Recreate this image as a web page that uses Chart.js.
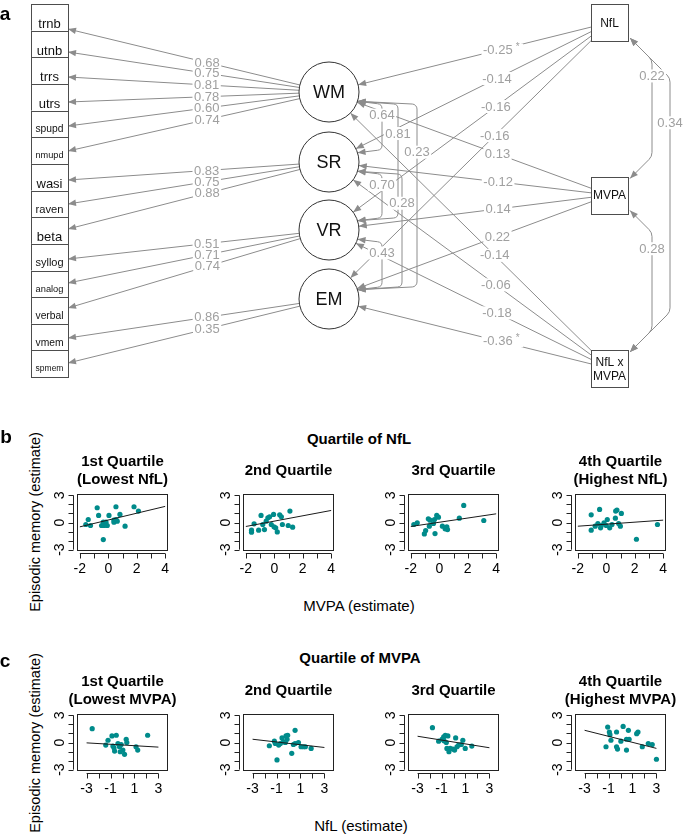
<!DOCTYPE html>
<html>
<head>
<meta charset="utf-8">
<title>NfL, MVPA and cognition</title>
<script src="https://cdn.jsdelivr.net/npm/chart.js@4.4.1/dist/chart.umd.min.js"></script>
<style>
  body { margin: 0; background: #fff; }
  #page { position: relative; width: 685px; height: 834px; overflow: hidden; font-family: "Liberation Sans", Arial, sans-serif; color: #000; }
  #page canvas { position: absolute; }
  .txt { position: absolute; white-space: nowrap; line-height: 1; transform: translate(-50%, -50%); }
  .panel { font-weight: bold; font-size: 19px; }
  .head { font-weight: bold; font-size: 15px; }
  .axis { font-size: 15px; }
  .vert { transform: translate(-50%, -50%) rotate(-90deg); font-size: 14.5px; }
</style>
</head>
<body>
<div id="page">
  <canvas id="sem" width="685" height="392" style="left:0;top:0"></canvas>
  <div class="txt panel" style="left:5px;top:13px">a</div>
  <div class="txt panel" style="left:6px;top:436px">b</div>
  <div class="txt head" style="left:359px;top:438px">Quartile of NfL</div>
  <div class="txt vert" style="left:35px;top:522px">Episodic memory (estimate)</div>
  <div class="txt axis" style="left:359px;top:605px">MVPA (estimate)</div>
  <div class="txt panel" style="left:5px;top:660px">c</div>
  <div class="txt head" style="left:360px;top:657px">Quartile of MVPA</div>
  <div class="txt vert" style="left:35px;top:743px">Episodic memory (estimate)</div>
  <div class="txt axis" style="left:361px;top:825px">NfL (estimate)</div>
</div>
<script>
// ---- panel a: structural equation model ----
var indicators = ['trnb', 'utnb', 'trrs', 'utrs', 'spupd', 'nmupd', 'wasi', 'raven', 'beta', 'syllog', 'analog', 'verbal', 'vmem', 'spmem'];
var factors = ['WM', 'SR', 'VR', 'EM'];
var factorOf = [0, 0, 0, 0, 0, 0, 1, 1, 1, 2, 2, 2, 3, 3];
var loadings = [0.68, 0.75, 0.81, 0.78, 0.60, 0.74, 0.83, 0.75, 0.88, 0.51, 0.71, 0.74, 0.86, 0.35];
var predictors = ['NfL', 'MVPA', 'NfL x MVPA'];
var betaNfL = [-0.25, -0.14, -0.16, -0.16];
var betaMVPA = [0.13, -0.12, 0.14, 0.22];
var betaNfLxMVPA = [-0.14, -0.06, -0.18, -0.36];
var sigNfL = [true, false, false, false];
var sigMVPA = [false, false, false, false];
var sigNfLxMVPA = [false, false, false, true];
var factorCov = [[0, 1, 0.64], [0, 2, 0.81], [0, 3, 0.23], [1, 2, 0.70], [1, 3, 0.28], [2, 3, 0.43]];
var predictorCov = [[0, 1, 0.22], [0, 2, 0.34], [1, 2, 0.28]];

// ---- panels b and c: episodic memory by quartile ----
var nflTitles = [['1st Quartile', '(Lowest NfL)'], ['2nd Quartile'], ['3rd Quartile'], ['4th Quartile', '(Highest NfL)']];
var mvpaTitles = [['1st Quartile', '(Lowest MVPA)'], ['2nd Quartile'], ['3rd Quartile'], ['4th Quartile', '(Highest MVPA)']];
var emTicks = [-3, -2, -1, 0, 1, 2, 3];
var emTickLabels = [-3, 0, 3];
var mvpaTicks = [-2, -1, 0, 1, 2, 3, 4];
var mvpaTickLabels = [-2, 0, 2, 4];
var nflTicks = [-3, -2, -1, 0, 1, 2, 3];
var nflTickLabels = [-3, -1, 1, 3];

var nflQ1Mvpa = [-1.58, -1.41, -1.25, -0.78, -0.68, -0.47, -0.35, -0.28, -0.16, -0.07, -0.35, 0.05, 0.40, 0.54, 0.54, 0.40, 0.82, 1.18, 1.81, 2.12, 0.63];
var nflQ1Em   = [-0.22, 0.33, -0.33, 1.63, 0.78, -0.33, 0.04, -0.33, 0.04, -0.33, -1.89, 0.78, 0.26, 0.33, 1.74, 0.04, 0.89, -0.41, 1.74, 1.26, 0.15];
var nflQ2Mvpa = [-1.60, -1.60, -1.42, -1.10, -0.93, -0.81, -0.69, -0.57, -0.45, -0.33, -0.21, -0.05, -0.02, 0.10, 0.21, 0.38, 0.50, 0.57, 0.98, 1.10, 1.29];
var nflQ2Em   = [-0.85, -1.07, -0.15, -0.85, 0.78, -0.22, -0.78, 0.15, 0.52, 0.63, -0.22, 0.89, -0.48, -0.59, -1.04, 0.85, 0.63, -0.22, -0.33, 1.26, -0.52];
var nflQ3Mvpa = [-1.79, -1.55, -1.05, -0.96, -0.77, -0.70, -0.65, -0.41, -0.34, -0.30, -0.18, -0.06, 0.22, 0.41, 0.53, 0.58, 1.41, 1.72, 3.13];
var nflQ3Em   = [-0.22, -0.04, -1.26, -0.89, 0.41, -0.41, 0.26, -0.11, 0.33, -1.22, 0.78, 0.59, -0.41, -0.70, -0.48, -0.78, 0.48, 1.89, 0.22];
var nflQ4Mvpa = [-1.06, -1.06, -0.78, -0.59, -0.47, -0.40, -0.35, -0.16, 0.00, 0.07, 0.24, 0.40, 0.64, 0.66, 0.75, 0.87, 0.99, 1.06, 2.12, 3.60];
var nflQ4Em   = [0.85, -0.85, -0.41, -0.11, 1.44, -0.59, -0.33, -0.04, -0.33, 0.33, -0.59, -0.22, 0.48, 1.26, 1.37, -0.11, -0.41, 1.00, -1.85, -0.22];
var nflFitX = [-2, 4];
var nflFitY = [[-0.48, 1.78], [-0.44, 1.33], [-0.44, 0.96], [-0.41, 0.26]];

var mvpaQ1Nfl = [-2.53, -1.40, -1.21, -0.88, -0.71, -0.66, -0.52, -0.38, -0.25, -0.19, -0.11, 0.03, 0.17, 0.31, 0.36, 1.13, 1.27, 2.10, -0.80];
var mvpaQ1Em  = [1.53, -0.29, 0.25, 0.73, -0.58, -0.95, 0.80, -0.11, -0.47, -1.02, -0.22, -0.84, -1.31, 0.36, 0.00, -0.47, -0.84, 0.80, -0.40];
var mvpaQ2Nfl = [-1.60, -1.18, -1.10, -0.96, -0.82, -0.68, -0.54, -0.43, -0.26, -0.21, -0.12, 0.55, 0.27, 0.41, 0.55, 0.83, 1.05, 1.25, 1.41, 1.89, -0.07];
var mvpaQ2Em  = [-0.36, 0.15, -0.11, -1.93, -0.29, -0.11, 0.51, 0.07, 0.00, 0.73, 0.36, 1.35, -1.20, -0.22, -0.11, 0.00, -0.47, -0.47, -0.47, -0.65, 0.80];
var mvpaQ3Nfl = [-1.76, -1.24, -0.96, -0.82, -0.69, -0.60, -0.55, -0.47, -0.38, -0.27, -0.04, 0.09, 0.18, 0.29, 0.43, 0.65, 0.78, 0.98, 1.53, -0.79];
var mvpaQ3Em  = [1.64, 0.15, 0.36, 0.62, 0.80, 0.00, -0.65, 0.73, -1.02, -0.65, -0.73, -0.84, 0.51, -0.47, -0.29, -0.22, 0.25, -0.65, -0.40, 0.18];
var mvpaQ4Nfl = [-1.21, -1.07, -0.93, -0.88, -0.80, -0.33, -0.33, -0.25, 0.03, 0.22, 0.50, 0.50, 0.66, 0.72, 1.35, 1.46, 1.82, 2.32, 2.65, 3.00];
var mvpaQ4Em  = [-0.47, 1.71, 1.16, 0.87, 0.25, 1.16, -0.47, -0.73, 0.15, 1.78, 0.36, -0.84, 1.35, 0.36, 0.98, 1.16, -0.47, -0.11, -0.22, -1.85];
var mvpaFitX = [-3, 3];
var mvpaFitY = [[-0.04, -0.51], [0.36, -0.55], [0.69, -0.58], [1.35, -0.65]];

// ---- layout and style ----
var FONT = '"Liberation Sans", Arial, sans-serif';
var EDGE = '#8c8c8c', LABEL = '#a0a0a0', TEAL = '#008b8b';
var boxL = 31, boxR = 68, boxTop = 4, boxH = 26.65;
var tipY = [29, 52, 77, 102, 126, 151, 180, 204, 229, 259, 283, 308, 338, 363];
var facX = 329, facY = [92, 162, 230, 299], facR = 30;
var predL = 591, predR = 628, predCY = [22.5, 195, 368.5], predHalf = 18.5;
var facCovPivot = [382, 398, 417, 382, 402, 382];
var predCovPivot = [652, 670, 652];

function unit(dx, dy) { var n = Math.sqrt(dx * dx + dy * dy); return { x: dx / n, y: dy / n }; }

function arrowHead(ctx, tip, from) {
  var a = Math.atan2(tip.y - from.y, tip.x - from.x), L = 8, W = 3.2;
  var bx = tip.x - L * Math.cos(a), by = tip.y - L * Math.sin(a);
  ctx.beginPath();
  ctx.moveTo(tip.x, tip.y);
  ctx.lineTo(bx + W * Math.sin(a), by - W * Math.cos(a));
  ctx.lineTo(bx - W * Math.sin(a), by + W * Math.cos(a));
  ctx.closePath();
  ctx.fill();
}

function straightEdge(ctx, s, e) {
  ctx.beginPath(); ctx.moveTo(s.x, s.y); ctx.lineTo(e.x, e.y); ctx.stroke();
  arrowHead(ctx, e, s);
}

function bracketEdge(ctx, A, B, P, dy, r) {
  var c1 = { x: P, y: A.y + dy }, c2 = { x: P, y: B.y - dy };
  ctx.beginPath();
  ctx.moveTo(A.x, A.y);
  ctx.arcTo(c1.x, c1.y, c2.x, c2.y, r);
  ctx.arcTo(c2.x, c2.y, B.x, B.y, r);
  ctx.lineTo(B.x, B.y);
  ctx.stroke();
  arrowHead(ctx, A, c1);
  arrowHead(ctx, B, c2);
}

function edgeLabel(ctx, lab) {
  ctx.font = '13px ' + FONT;
  var w = ctx.measureText(lab.t).width, extra = lab.star ? 9 : 0;
  ctx.fillStyle = '#fff';
  ctx.fillRect(lab.x - w / 2 - 1.5, lab.y - 6.5, w + 3 + extra, 13);
  ctx.fillStyle = LABEL;
  ctx.textAlign = 'center';
  ctx.textBaseline = 'middle';
  ctx.fillText(lab.t, lab.x, lab.y + 0.5);
  if (lab.star) {
    ctx.font = '10px ' + FONT;
    ctx.textAlign = 'left';
    ctx.fillText('*', lab.x + w / 2 + 3, lab.y - 3);
  }
}

var semDiagram = {
  id: 'semDiagram',
  beforeDatasetsDraw: function (chart) {
    var ctx = chart.ctx;
    var sx = function (v) { return chart.scales.x.getPixelForValue(v); };
    var sy = function (v) { return chart.scales.y.getPixelForValue(v); };
    var labels = [];
    ctx.save();
    ctx.strokeStyle = EDGE; ctx.fillStyle = EDGE; ctx.lineWidth = 1;

    // factor loadings
    indicators.forEach(function (name, i) {
      var c = { x: sx(facX), y: sy(facY[factorOf[i]]) };
      var e = { x: sx(boxR), y: sy(tipY[i]) };
      var d = unit(e.x - c.x, e.y - c.y);
      var s = { x: c.x + d.x * facR, y: c.y + d.y * facR };
      straightEdge(ctx, s, e);
      labels.push({ t: loadings[i].toFixed(2), x: s.x + 0.4 * (e.x - s.x), y: s.y + 0.4 * (e.y - s.y) });
    });

    // regressions of the factors on the predictors
    var betas = [betaNfL, betaMVPA, betaNfLxMVPA], sigs = [sigNfL, sigMVPA, sigNfLxMVPA];
    predictors.forEach(function (p, pi) {
      var pc = { x: sx((predL + predR) / 2), y: sy(predCY[pi]) };
      factors.forEach(function (f, fi) {
        var fc = { x: sx(facX), y: sy(facY[fi]) };
        var dx = fc.x - pc.x, dy = fc.y - pc.y;
        var t = Math.min(predHalf / Math.abs(dx), dy === 0 ? Infinity : predHalf / Math.abs(dy));
        var s = { x: pc.x + t * dx, y: pc.y + t * dy };
        var u = unit(dx, dy);
        var e = { x: fc.x - u.x * facR, y: fc.y - u.y * facR };
        straightEdge(ctx, s, e);
        labels.push({ t: betas[pi][fi].toFixed(2), x: s.x + 0.4 * (e.x - s.x), y: s.y + 0.4 * (e.y - s.y), star: sigs[pi][fi] });
      });
    });

    // factor covariances
    var ang = 18 * Math.PI / 180;
    factorCov.forEach(function (cv, k) {
      var A = { x: sx(facX) + facR * Math.cos(ang), y: sy(facY[cv[0]]) + facR * Math.sin(ang) };
      var B = { x: sx(facX) + facR * Math.cos(ang), y: sy(facY[cv[1]]) - facR * Math.sin(ang) };
      var P = sx(facCovPivot[k]);
      bracketEdge(ctx, A, B, P, 3, 5);
      labels.push({ t: cv[2].toFixed(2), x: P, y: A.y + 0.27 * (B.y - A.y) });
    });

    // predictor covariances
    predictorCov.forEach(function (cv, k) {
      var A = { x: sx(predR) + 2, y: sy(predCY[cv[0]] + predHalf) - 3 };
      var B = { x: sx(predR) + 2, y: sy(predCY[cv[1]] - predHalf) + 2 };
      var P = sx(predCovPivot[k]);
      bracketEdge(ctx, A, B, P, P - A.x, 10);
      labels.push({ t: cv[2].toFixed(2), x: P, y: A.y + 0.27 * (B.y - A.y) });
    });

    labels.forEach(function (lab) { edgeLabel(ctx, lab); });
    ctx.restore();
  },
  afterDatasetsDraw: function (chart) {
    var ctx = chart.ctx;
    var sx = function (v) { return chart.scales.x.getPixelForValue(v); };
    var sy = function (v) { return chart.scales.y.getPixelForValue(v); };
    ctx.save();
    ctx.lineWidth = 1;
    ctx.textAlign = 'center';
    ctx.textBaseline = 'middle';

    // observed indicators
    indicators.forEach(function (name, i) {
      var top = sy(boxTop + i * boxH), bottom = sy(boxTop + (i + 1) * boxH);
      var l = sx(boxL), r = sx(boxR);
      ctx.fillStyle = '#fff';
      ctx.fillRect(l, top, r - l, bottom - top);
      ctx.strokeStyle = '#4d4d4d';
      ctx.strokeRect(Math.round(l) + 0.5, Math.round(top) + 0.5, Math.round(r - l), Math.round(bottom) - Math.round(top));
      ctx.font = '13px ' + FONT;
      var fs = Math.min(13, 13 * 28 / ctx.measureText(name).width);
      ctx.font = fs.toFixed(1) + 'px ' + FONT;
      ctx.fillStyle = '#111';
      ctx.fillText(name, (l + r) / 2, (top + bottom) / 2 + 0.55 * fs);
    });

    // predictors
    predictors.forEach(function (name, i) {
      var l = sx(predL), r = sx(predR), top = sy(predCY[i] - predHalf), bottom = sy(predCY[i] + predHalf);
      ctx.fillStyle = '#fff';
      ctx.fillRect(l, top, r - l, bottom - top);
      ctx.strokeStyle = '#4d4d4d';
      ctx.strokeRect(Math.round(l) + 0.5, Math.round(top) + 0.5, Math.round(r - l), Math.round(bottom - top));
      ctx.fillStyle = '#111';
      ctx.font = '12px ' + FONT;
      var parts = name === 'NfL x MVPA' ? ['NfL x', 'MVPA'] : [name];
      parts.forEach(function (txt, j) {
        ctx.fillText(txt, (l + r) / 2, (top + bottom) / 2 + 1 + (j - (parts.length - 1) / 2) * 14);
      });
    });

    // factor names
    ctx.font = '18px ' + FONT;
    ctx.fillStyle = '#111';
    factors.forEach(function (name, i) {
      ctx.fillText(name, sx(facX), sy(facY[i]) + 1);
    });
    ctx.restore();
  }
};

new Chart(document.getElementById('sem'), {
  type: 'scatter',
  data: {
    datasets: [{
      label: 'factors',
      data: factors.map(function (f, i) { return { x: facX, y: facY[i] }; }),
      pointRadius: facR,
      pointHoverRadius: facR,
      pointStyle: 'circle',
      backgroundColor: '#fff',
      borderColor: '#333',
      borderWidth: 1
    }]
  },
  options: {
    responsive: false,
    animation: false,
    events: [],
    layout: { padding: 0, autoPadding: false },
    plugins: { legend: { display: false }, tooltip: { enabled: false } },
    scales: {
      x: { type: 'linear', min: 0, max: 685, display: false },
      y: { type: 'linear', min: 0, max: 392, reverse: true, display: false }
    }
  },
  plugins: [semDiagram]
});

// ---- quartile scatter plots ----
var plotLeft = [77, 243, 408, 575], rowTop = [494, 714];
var plotW = 91, plotH = 57, marginL = 38, marginR = 38, marginTop = 45, marginBottom = 30;

var rAxes = {
  id: 'rAxes',
  afterDraw: function (chart) {
    var a = chart.chartArea, ctx = chart.ctx, xs = chart.scales.x, ys = chart.scales.y;
    ctx.save();
    ctx.strokeStyle = '#222';
    ctx.lineWidth = 1;
    ctx.strokeRect(Math.round(a.left) + 0.5, Math.round(a.top) + 0.5, Math.round(a.right - a.left) - 1, Math.round(a.bottom - a.top) - 1);
    var xv = xs.ticks.map(function (t) { return t.value; });
    var yv = ys.ticks.map(function (t) { return t.value; });
    var yA = Math.round(a.bottom) + 2.5;
    ctx.beginPath();
    ctx.moveTo(xs.getPixelForValue(xv[0]), yA);
    ctx.lineTo(xs.getPixelForValue(xv[xv.length - 1]), yA);
    xv.forEach(function (v) {
      var p = Math.round(xs.getPixelForValue(v)) + 0.5;
      ctx.moveTo(p, yA); ctx.lineTo(p, yA + 5);
    });
    var xA = Math.round(a.left) - 3.5;
    ctx.moveTo(xA, ys.getPixelForValue(yv[0]));
    ctx.lineTo(xA, ys.getPixelForValue(yv[yv.length - 1]));
    yv.forEach(function (v) {
      var p = Math.round(ys.getPixelForValue(v)) + 0.5;
      ctx.moveTo(xA, p); ctx.lineTo(xA - 5, p);
    });
    ctx.stroke();
    ctx.restore();
  }
};

function quartilePlot(id, col, row, title, xs, ys, fitX, fitY, xTicks, xTickLabels, xMin, xMax) {
  var c = document.createElement('canvas');
  c.id = id;
  c.width = marginL + plotW + marginR;
  c.height = marginTop + plotH + marginBottom;
  c.style.left = (plotLeft[col] - marginL) + 'px';
  c.style.top = (rowTop[row] - marginTop) + 'px';
  document.getElementById('page').appendChild(c);

  var points = xs.map(function (x, i) { return { x: x, y: ys[i] }; });
  var fit = fitX.map(function (x, i) { return { x: x, y: fitY[i] }; });
  var two = title.length > 1;

  return new Chart(c, {
    type: 'scatter',
    data: {
      datasets: [
        { type: 'line', data: fit, borderColor: '#1a1a1a', borderWidth: 1, pointRadius: 0, fill: false },
        { data: points, pointRadius: 2.6, backgroundColor: TEAL, borderWidth: 0 }
      ]
    },
    options: {
      responsive: false,
      animation: false,
      events: [],
      layout: { padding: 0, autoPadding: false },
      plugins: {
        legend: { display: false },
        tooltip: { enabled: false },
        title: {
          display: true, text: title, color: '#000',
          font: { family: FONT, size: 15, weight: 'bold', lineHeight: 1.2 },
          padding: two ? { top: 4, bottom: 5 } : { top: 13, bottom: 14 }
        }
      },
      scales: {
        x: {
          type: 'linear', min: xMin, max: xMax,
          afterBuildTicks: function (s) { s.ticks = xTicks.map(function (v) { return { value: v }; }); },
          afterFit: function (s) { s.height = marginBottom; },
          grid: { display: false, drawTicks: false },
          border: { display: false },
          ticks: {
            padding: 10, color: '#000', autoSkip: false, maxRotation: 0,
            font: { family: FONT, size: 14 },
            callback: function (v) { return xTickLabels.indexOf(v) >= 0 ? String(v) : ''; }
          }
        },
        y: {
          type: 'linear', min: -3.15, max: 3.15,
          afterBuildTicks: function (s) { s.ticks = emTicks.map(function (v) { return { value: v }; }); },
          afterFit: function (s) { s.width = marginL; },
          grid: { display: false, drawTicks: false },
          border: { display: false },
          ticks: {
            padding: 11, color: '#000', autoSkip: false, minRotation: 90, maxRotation: 90, crossAlign: 'center',
            font: { family: FONT, size: 14 },
            callback: function (v) { return emTickLabels.indexOf(v) >= 0 ? String(v) : ''; }
          }
        },
        // empty right-hand margin so the titles centre over the plot box
        margin: {
          type: 'linear', position: 'right', display: true,
          grid: { display: false, drawTicks: false },
          border: { display: false },
          ticks: { display: false },
          afterFit: function (s) { s.width = marginR; }
        }
      }
    },
    plugins: [rAxes]
  });
}

var nflX = [nflQ1Mvpa, nflQ2Mvpa, nflQ3Mvpa, nflQ4Mvpa], nflY = [nflQ1Em, nflQ2Em, nflQ3Em, nflQ4Em];
var mvpaX = [mvpaQ1Nfl, mvpaQ2Nfl, mvpaQ3Nfl, mvpaQ4Nfl], mvpaY = [mvpaQ1Em, mvpaQ2Em, mvpaQ3Em, mvpaQ4Em];
for (var q = 0; q < 4; q++) {
  quartilePlot('nflQ' + (q + 1), q, 0, nflTitles[q], nflX[q], nflY[q], nflFitX, nflFitY[q], mvpaTicks, mvpaTickLabels, -2.2, 4.2);
  quartilePlot('mvpaQ' + (q + 1), q, 1, mvpaTitles[q], mvpaX[q], mvpaY[q], mvpaFitX, mvpaFitY[q], nflTicks, nflTickLabels, -3.8, 3.8);
}
</script>
</body>
</html>
